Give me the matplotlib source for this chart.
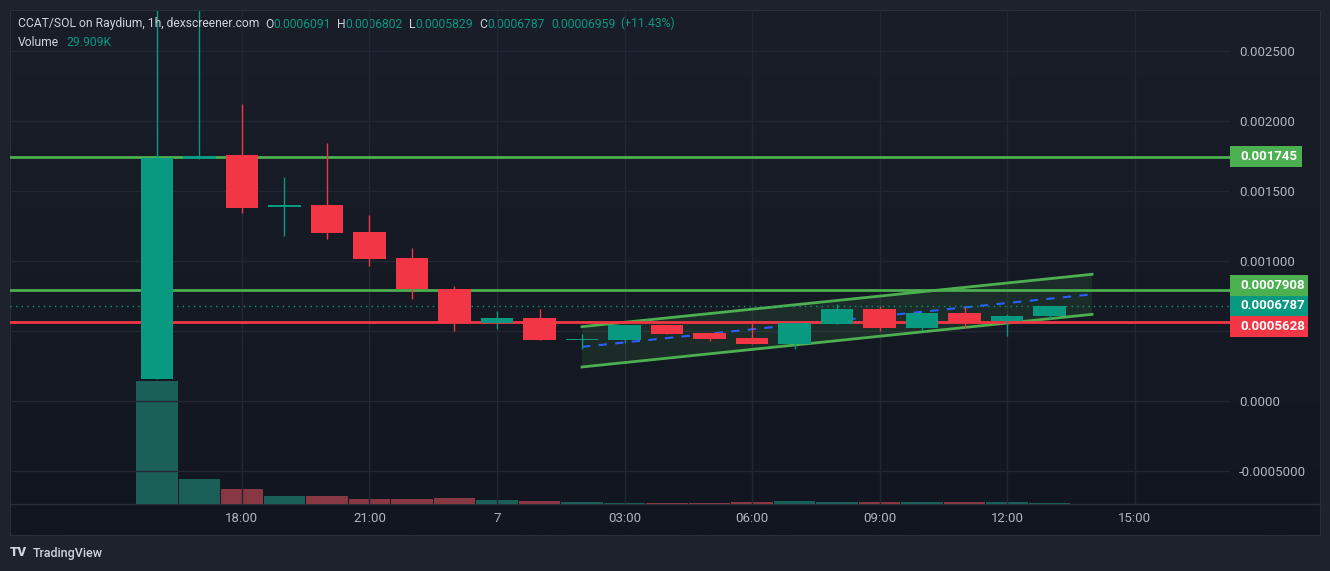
import numpy as np
import matplotlib.pyplot as plt
from matplotlib.colors import LinearSegmentedColormap
from matplotlib.patches import Rectangle, Polygon
from matplotlib.transforms import blended_transform_factory

plt.rcParams['font.family'] = ['Roboto', 'DejaVu Sans']

# hourly candles, x = hours relative to 00:00 on the 7th
hours = [-8, -7, -6, -5, -4, -3, -2, -1, 0, 1, 2, 3, 4, 5, 6, 7, 8, 9, 10, 11, 12, 13]
opens = [0.000157, 0.001731, 0.001757, 0.001383, 0.001400, 0.001207, 0.001021, 0.000800,
         0.000559, 0.000593, 0.000435, 0.000436, 0.000543, 0.000486, 0.000450, 0.000407,
         0.000552, 0.000657, 0.000521, 0.000629, 0.000569, 0.0006091]
highs = [0.003400, 0.003100, 0.002121, 0.001600, 0.001843, 0.001329, 0.001093, 0.000821,
         0.000643, 0.000657, 0.000479, 0.000543, 0.000543, 0.000486, 0.000564, 0.000557,
         0.000693, 0.000679, 0.000629, 0.000671, 0.000621, 0.0006802]
lows = [0.000157, 0.001731, 0.001343, 0.001181, 0.001155, 0.000966, 0.000729, 0.000500,
        0.000514, 0.000436, 0.000374, 0.000416, 0.000479, 0.000429, 0.000407, 0.000371,
        0.000552, 0.000500, 0.000507, 0.000524, 0.000464, 0.0005829]
closes = [0.001736, 0.001752, 0.001381, 0.001397, 0.001202, 0.001016, 0.000798, 0.000564,
          0.000593, 0.000436, 0.000446, 0.000543, 0.000479, 0.000443, 0.000407, 0.000557,
          0.000657, 0.000521, 0.000629, 0.000559, 0.000607, 0.0006787]
volumes = [3690, 750, 450, 240, 240, 150, 150, 180, 120, 90, 60, 35, 32, 30, 60, 90,
           60, 60, 60, 60, 60, 29.909]

# drawn levels
resistance = [0.001745, 0.0007908]
support = 0.0005628
last_price = 0.0006787

# rising channel
chan_t = [2, 14]
chan_upper = [0.000531, 0.000905]
chan_lower = [0.000243, 0.000619]

yticks = [-0.0005, 0.0, 0.0005, 0.001, 0.0015, 0.002, 0.0025]
# 0.0005 label sits under the price boxes in the original
ytick_labels = ['-0.0005000', '0.0000', '', '0.001000', '0.001500', '0.002000', '0.002500']
xticks = [-6, -3, 0, 3, 6, 9, 12, 15]
xtick_labels = ['18:00', '21:00', '7', '03:00', '06:00', '09:00', '12:00', '15:00']

UP = '#089981'
DOWN = '#f23645'
LVL = '#4caf50'
TXT = '#b2b5be'

W, H = 1330, 571
fig = plt.figure(figsize=(W / 100, H / 100), dpi=100, facecolor='#1e222d')

# chart background with slight gradient
bg = fig.add_axes([10 / W, 1 - 535 / H, 1310 / W, 525 / H], zorder=0)
cmap = LinearSegmentedColormap.from_list('bg', ['#1a1e29', '#121620'])
bg.imshow(np.linspace(0, 1, 256).reshape(-1, 1), aspect='auto', cmap=cmap,
          extent=(0, 1, 0, 1))
bg.set_xticks([])
bg.set_yticks([])
for s in bg.spines.values():
    s.set_color('#2a2e39')

ax = fig.add_axes([10 / W, 1 - 504 / H, 1220 / W, 493 / H])
vol = ax.twinx()
ax.set_zorder(3)
vol.set_zorder(2)
ax.patch.set_alpha(0)
vol.patch.set_alpha(0)

x0 = 497
pxh = 42.5
ax.set_xlim((10 - x0) / pxh, (1230 - x0) / pxh)
ax.set_ylim(-103 / 140 * 0.001, 390 / 140 * 0.001)

# volume
vcol = ['#1a5f58' if c >= o else '#883842' for o, c in zip(opens, closes)]
vol.bar(hours, volumes, width=0.97, color=vcol, linewidth=0)
vol.set_ylim(0, max(volumes) * 493 / 123)
vol.axis('off')

# grid
ax.set_yticks(yticks)
ax.set_yticklabels(ytick_labels)
ax.set_xticks(xticks)
ax.set_xticklabels(xtick_labels)
ax.grid(color='#232733', lw=1)
ax.set_axisbelow(True)
ax.yaxis.tick_right()
ax.tick_params(length=0, labelcolor=TXT, labelsize=9.5)
ax.tick_params(axis='y', pad=6.5)
ax.tick_params(axis='x', pad=6)
for s in ax.spines.values():
    s.set_visible(False)

# channel
poly = Polygon([(chan_t[0], chan_lower[0]), (chan_t[1], chan_lower[1]),
                (chan_t[1], chan_upper[1]), (chan_t[0], chan_upper[0])],
               closed=True, facecolor=LVL, alpha=0.13, edgecolor='none', zorder=3)
ax.add_patch(poly)
ax.plot(chan_t, chan_upper, color=LVL, lw=2, zorder=4)
ax.plot(chan_t, chan_lower, color=LVL, lw=2, zorder=4)
mid = [(u + d) / 2 for u, d in zip(chan_upper, chan_lower)]
ax.plot(chan_t, mid, color='#2962ff', lw=1.5, ls=(0, (4, 4)), zorder=4)

# horizontal levels
for lv in resistance:
    ax.axhline(lv, color=LVL, lw=2, zorder=4)
ax.axhline(support, color=DOWN, lw=2, zorder=4)
ax.axhline(last_price, color=UP, lw=1, ls=(0, (1, 3)), zorder=4)

# candles on top of the drawings
for t, o, h, l, c in zip(hours, opens, highs, lows, closes):
    col = UP if c >= o else DOWN
    ax.vlines(t, l, h, color=col, lw=1, zorder=6)
    ax.bar(t, abs(c - o), bottom=min(o, c), width=0.77, color=col, linewidth=0, zorder=6)

# price labels on the scale
tr = blended_transform_factory(ax.transAxes, ax.transData)
bh = 20.5 / 140 * 0.001


def price_box(yc, text, color, wpx):
    ax.add_patch(Rectangle((1.0, yc - bh / 2), wpx / 1220, bh, transform=tr,
                           facecolor=color, edgecolor='none', clip_on=False, zorder=10))
    ax.text(1.0 + 10 / 1220, yc, text, transform=tr, color='white', fontsize=9.5,
            fontweight='bold', va='center', ha='left', clip_on=False, zorder=11)


price_box(resistance[0], '0.001745', LVL, 72)
price_box(last_price + bh, '0.0007908', LVL, 78)
price_box(last_price, '0.0006787', UP, 78)
price_box(last_price - bh, '0.0005628', DOWN, 78)

# header legend
FS = 8.7
parts1 = [('O', '#d1d4dc', 4), ('0.0006091', UP, 0),
          ('H', '#d1d4dc', 4.5), ('0.0006802', UP, 0),
          ('L', '#d1d4dc', 4.5), ('0.0005829', UP, 0),
          ('C', '#d1d4dc', 4.5), ('0.0006787', UP, 0),
          ('0.00006959', UP, 4.5), ('(+11.43%)', UP, 3)]
prev = fig.text(18 / W, 1 - 24 / H, 'CCAT/SOL on Raydium, 1h, dexscreener.com',
                color='#d1d4dc', fontsize=FS, va='center', ha='left', zorder=20)
for txt, col, gap in parts1:
    prev = plt.annotate(txt, xy=(1, 0), xycoords=prev, xytext=(gap, 0),
                        textcoords='offset points', va='bottom', ha='left',
                        color=col, fontsize=FS, annotation_clip=False, zorder=20)
v = fig.text(18 / W, 1 - 42 / H, 'Volume', color='#d1d4dc', fontsize=FS,
             va='center', ha='left', zorder=20)
plt.annotate('29.909K', xy=(1, 0), xycoords=v, xytext=(5, 0), textcoords='offset points',
             va='bottom', ha='left', color=UP, fontsize=FS, annotation_clip=False, zorder=20)

# bottom separator of time scale
fig.add_artist(plt.Line2D([10 / W, 1320 / W], [1 - 504 / H, 1 - 504 / H],
                          color='#2a2e39', lw=1))

# footer
fig.text(10 / W, 1 - 553 / H, 'TV', color='#d1d4dc', fontsize=9.5, fontweight='black',
         va='center', ha='left')
fig.text(33 / W, 1 - 553 / H, 'TradingView', color='#d1d4dc', fontsize=9,
         fontweight='medium', va='center', ha='left')

fig.savefig('out.png', dpi=100, facecolor=fig.get_facecolor())
